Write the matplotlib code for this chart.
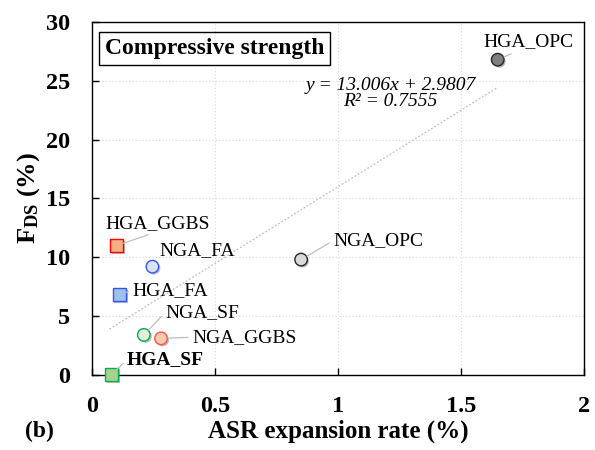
import numpy as np
import matplotlib
matplotlib.use('Agg')
import matplotlib.pyplot as plt
import matplotlib.patheffects as pe

plt.rcParams['font.family'] = ['Liberation Serif', 'DejaVu Serif']
plt.rcParams['mathtext.fontset'] = 'custom'
plt.rcParams['mathtext.rm'] = 'Liberation Serif'
plt.rcParams['mathtext.it'] = 'Liberation Serif:italic'
plt.rcParams['mathtext.bf'] = 'Liberation Serif:bold'

# ASR expansion (%) vs compressive strength loss F_DS (%)
names = ['HGA_OPC', 'NGA_OPC', 'HGA_GGBS', 'NGA_FA', 'HGA_FA', 'NGA_SF', 'NGA_GGBS', 'HGA_SF']
expansion = [1.65, 0.85, 0.10, 0.245, 0.11, 0.21, 0.28, 0.08]
fds = [26.8, 9.8, 11.0, 9.2, 6.8, 3.4, 3.1, 0.05]
markers = ['o', 'o', 's', 'o', 's', 'o', 'o', 's']
face = ['#7f7f7f', '#d9d9d9', '#f4b183', '#dae3f3', '#9dc3e6', '#e2f0d9', '#f8cbad', '#a9d18e']
edge = ['#262626', '#262626', '#ff0000', '#3355ff', '#3355ff', '#00b050', '#ff5050', '#00b050']

# label text positions (data units) and leader anchor on the text box
label_xy = [(1.59, 28.3), (0.98, 11.4), (0.053, 12.9), (0.273, 10.6),
            (0.163, 7.2), (0.297, 5.3), (0.407, 3.2), (0.142, 1.3)]
label_rel = [(0.4, 0.0), (0.0, 0.5), (0.5, 0.0), None,
             (0.0, 0.5), (0.0, 0.5), (0.0, 0.5), (0.0, 0.5)]
label_bold = [False, False, False, False, False, False, False, True]

slope, intercept, r2 = 13.006, 2.9807, 0.7555

fig = plt.figure(figsize=(5.95, 4.5), dpi=100)
ax = fig.add_axes([0.155, 0.167, 0.826, 0.784])

# linear trendline
xfit = np.linspace(0.07, max(expansion), 50)
ax.plot(xfit, slope * xfit + intercept, color='#bfbfbf', lw=0.9, ls=(0, (1.5, 1.5)), zorder=2)

shadow = [pe.SimplePatchShadow(offset=(1.2, -1.2), alpha=0.35), pe.Normal()]
for i in range(len(names)):
    ax.plot(expansion[i], fds[i], marker=markers[i], ms=9 if markers[i] == 'o' else 9.5,
            mfc=face[i], mec=edge[i], mew=1.0, ls='none', zorder=4, clip_on=False,
            path_effects=shadow)
    tx, ty = label_xy[i]
    arrow = None
    if label_rel[i] is not None:
        arrow = dict(arrowstyle='-', color='#bfbfbf', lw=0.9, shrinkA=1, shrinkB=5,
                     relpos=label_rel[i])
    ax.annotate(names[i], xy=(expansion[i], fds[i]), xytext=(tx, ty),
                ha='left', va='center', fontsize=14,
                fontweight='bold' if label_bold[i] else 'normal',
                arrowprops=arrow, zorder=5)

ax.text(1.213, 23.9, 'y = 13.006x + 2.9807\nR² = 0.7555', ha='center', va='center',
        fontsize=14, style='italic', linespacing=0.95, zorder=5)

ax.text(0.025, 0.925, 'Compressive strength', transform=ax.transAxes, ha='left', va='center',
        fontsize=17, fontweight='bold',
        bbox=dict(boxstyle='square,pad=0.25', fc='white', ec='black', lw=1.0))

ax.set_xlim(0, 2)
ax.set_ylim(0, 30)
ax.set_xticks([0, 0.5, 1, 1.5, 2])
ax.set_xticklabels(['0', '0.5', '1', '1.5', '2'])
ax.set_yticks(range(0, 31, 5))
ax.grid(True, color='#d9d9d9', ls=(0, (1, 2)), lw=0.8)
ax.set_axisbelow(True)
ax.tick_params(direction='in', length=5, width=1, labelsize=17.5)
ax.tick_params(axis='x', pad=15)
ax.tick_params(axis='y', pad=16)
for lab in ax.get_xticklabels() + ax.get_yticklabels():
    lab.set_fontweight('bold')
for sp in ax.spines.values():
    sp.set_linewidth(1.0)

ax.set_xlabel('ASR expansion rate (%)', fontsize=18, fontweight='bold', labelpad=2)
ax.set_ylabel(r'$\mathbf{F_{DS}}$ (%)', fontsize=19, fontweight='bold', labelpad=3)
fig.text(0.042, 0.042, '(b)', fontsize=17, fontweight='bold', ha='left', va='center')

fig.savefig('out.png', dpi=100, facecolor='white')
